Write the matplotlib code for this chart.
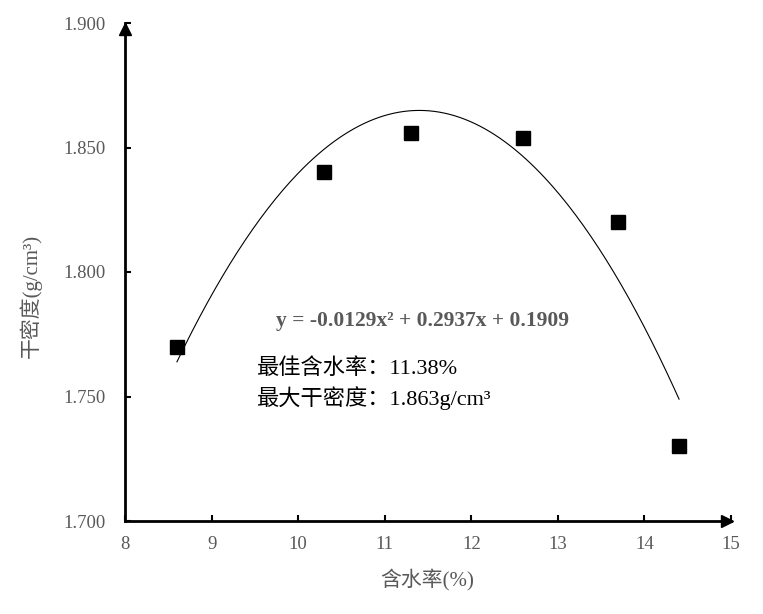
import matplotlib
matplotlib.use("Agg")
import matplotlib.pyplot as plt
import matplotlib.transforms as mtransforms
import numpy as np

# Data
moisture = [8.6, 10.3, 11.3, 12.6, 13.7, 14.4]
dry_density = [1.770, 1.840, 1.856, 1.854, 1.820, 1.730]
x_ticks = [8, 9, 10, 11, 12, 13, 14, 15]
y_ticks = [1.700, 1.750, 1.800, 1.850, 1.900]
equation_text = 'y = -0.0129x² + 0.2937x + 0.1909'
opt_moisture_text = '最佳含水率：11.38%'
max_density_text = '最大干密度：1.863g/cm³'

serif = ['Liberation Serif', 'Noto Sans CJK SC']
gray = '#595959'

fig = plt.figure(figsize=(7.63, 6.14), dpi=100)
ax = fig.add_axes([125/763, 93/614, 606/763, 498/614])

# polynomial trendline (order 2) fitted to the data
coef = np.polyfit(moisture, dry_density, 2)
xs = np.linspace(min(moisture), max(moisture), 200)
ax.plot(xs, np.polyval(coef, xs), color='black', lw=0.8)
ax.plot(moisture, dry_density, 's', color='black', ms=10.5, ls='none')

ax.set_xlim(8, 15)
ax.set_ylim(1.700, 1.900)
ax.set_xticks(x_ticks)
ax.set_yticks(y_ticks)
ax.set_xticklabels([str(t) for t in x_ticks], family=serif, color=gray, fontsize=13.5)
ax.set_yticklabels([f"{t:.3f}" for t in y_ticks], family=serif, color=gray, fontsize=13.5)
ax.tick_params(direction='in', length=4, width=1.5, colors='black')
ax.tick_params(axis='y', pad=14)
ax.tick_params(axis='x', pad=11)
for lab in ax.get_xticklabels() + ax.get_yticklabels():
    lab.set_color(gray)

for s in ['top', 'right']:
    ax.spines[s].set_visible(False)
for s in ['left', 'bottom']:
    ax.spines[s].set_linewidth(2)
    ax.spines[s].set_color('black')

# arrows
t_up = mtransforms.offset_copy(ax.transAxes, fig=fig, x=0, y=-6, units='dots')
t_right = mtransforms.offset_copy(ax.transAxes, fig=fig, x=-4, y=0, units='dots')
ax.plot(0, 1, '^', transform=t_up, color='black', ms=9, clip_on=False)
ax.plot(1, 0, '>', transform=t_right, color='black', ms=9, clip_on=False)

fig.text(427/763, 1 - 580/614, '含水率(%)', family=serif, color=gray, fontsize=15,
         ha='center', va='center')
fig.text(31/763, 1 - 296/614, '干密度(g/cm³)', family=serif, color=gray, fontsize=15,
         ha='center', va='center', rotation=90)

fig.text(422/763, 1 - 321/614, equation_text, family=serif,
         fontweight='bold', color=gray, fontsize=15.5, ha='center', va='center')
fig.text(257/763, 1 - 369/614, opt_moisture_text, family=serif, color='black',
         fontsize=16, ha='left', va='center')
fig.text(257/763, 1 - 398/614, max_density_text, family=serif, color='black',
         fontsize=16, ha='left', va='center')

fig.savefig('out.png', dpi=100)
